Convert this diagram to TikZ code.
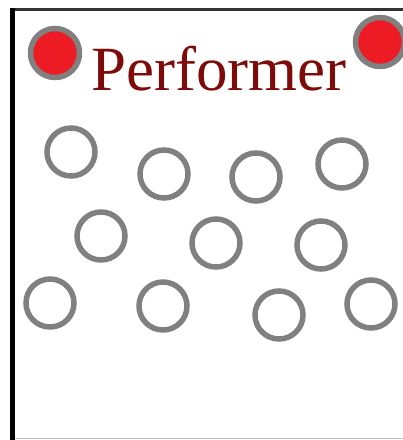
\documentclass[tikz,border=0pt]{standalone}
\usepackage{fontspec}
\setmainfont{Liberation Serif}
\usepackage{xcolor}
\usetikzlibrary{calc}

\definecolor{seatgray}{HTML}{808080}
\definecolor{stagered}{HTML}{ED1C24}
\definecolor{labelred}{HTML}{7F0A0A}

\begin{document}
\begin{tikzpicture}[x=1pt, y=-1pt,
    seat/.style={circle, draw=seatgray, line width=5.5pt, minimum size=48pt, inner sep=0pt},
    performer/.style={seat, fill=stagered, minimum size=49pt}]
    \useasboundingbox (0,0) rectangle (403,440);
    % Frame
    \draw[line width=3pt, black!80] (10,9) -- (403,9);
    \draw[line width=1.5pt, black!25] (12,438.5) -- (403,438.5);
    \draw[line width=4.5pt, black] (12.5,7.5) -- (12.5,440);
    % Performers
    \node[performer] (perfL) at (55,53) {};
    \node[performer] (perfR) at (380,42) {};
    \node[anchor=base west, text=labelred, font=\fontsize{63}{75}\selectfont, inner sep=0pt] (title) at (91,90) {Performer};
    % Audience seats
    \foreach \n/\x/\y in {1/71/152, 2/164/174, 3/256/177, 4/342/164,
                          5/101/236, 6/216/243, 7/321/245,
                          8/50/303, 9/163/306, 10/279/315, 11/371/304} {
        \node[seat] (seat\n) at (\x,\y) {};
    }
\end{tikzpicture}
\end{document}
